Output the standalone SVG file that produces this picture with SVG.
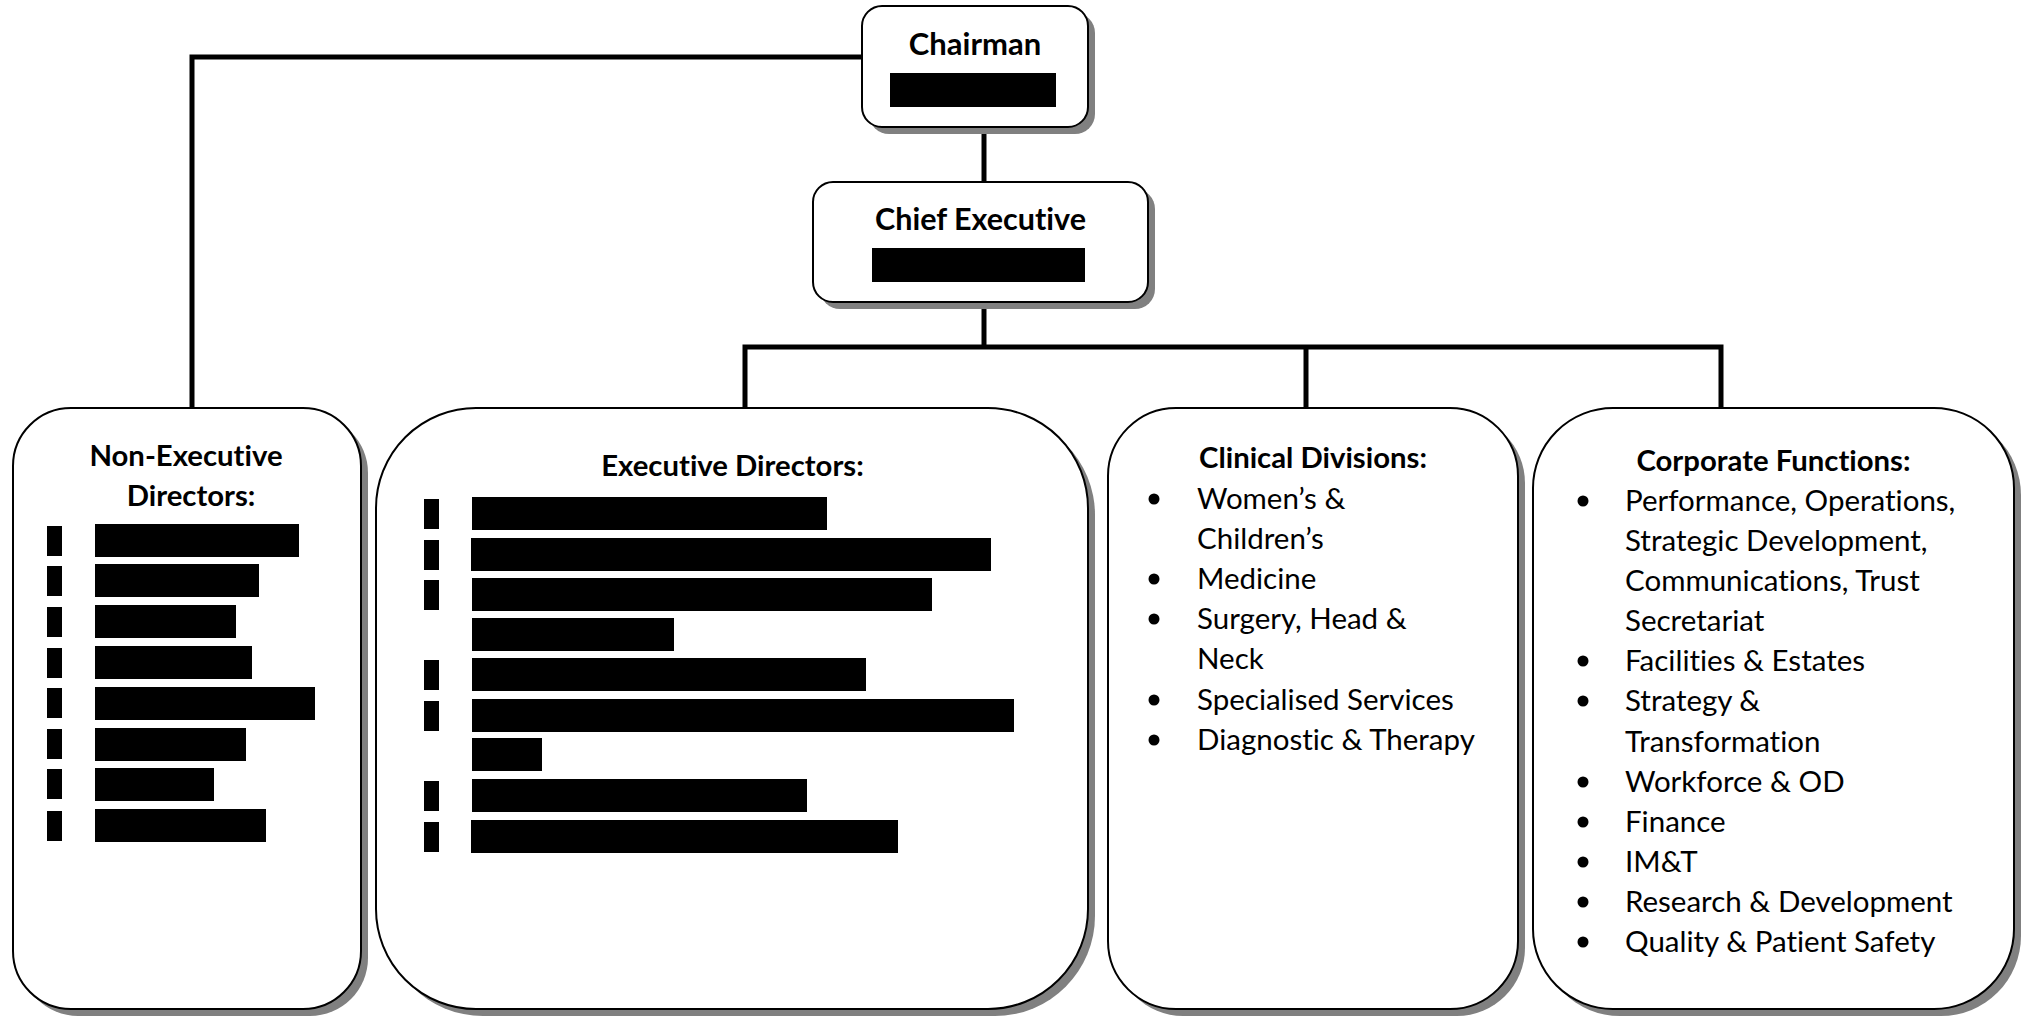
<svg xmlns="http://www.w3.org/2000/svg" width="2029" height="1018" viewBox="0 0 2029 1018">
<style>
.shadow{fill:#808080}
.box{fill:#ffffff;stroke:#000000;stroke-width:2}
.conn{stroke:#000000;stroke-width:5;fill:none}
.red{fill:#000000}
.h{font-family:Lato,"Open Sans",sans-serif;font-weight:bold;font-size:29.3px;fill:#000;text-anchor:middle;font-variant-ligatures:none}
.t{font-family:Lato,"Open Sans",sans-serif;font-size:29.5px;fill:#000;font-variant-ligatures:none}
.dot{fill:#000}
</style>
<rect width="2029" height="1018" fill="#ffffff"/>
<g id="connectors">
<polyline class="conn" points="862,57 192,57 192,408"/>
<line class="conn" x1="984" y1="128" x2="984" y2="182"/>
<line class="conn" x1="984" y1="302" x2="984" y2="347"/>
<polyline class="conn" points="745,408 745,347 1721,347 1721,408"/>
<line class="conn" x1="1306" y1="347" x2="1306" y2="408"/>
</g>
<g id="chairman">
<rect class="shadow" x="869" y="13" width="226" height="121" rx="20"/>
<rect class="box" x="862" y="6" width="226" height="121" rx="20"/>
<text class="h" x="975" y="55" style="font-size:31px">Chairman</text>
<rect class="red" x="890" y="73" width="166" height="34"/>
</g>
<g id="chief-executive">
<rect class="shadow" x="820" y="189" width="335" height="120" rx="20"/>
<rect class="box" x="813" y="182" width="335" height="120" rx="20"/>
<text class="h" x="980.5" y="230" style="font-size:30.5px">Chief Executive</text>
<rect class="red" x="872" y="248" width="213" height="34"/>
</g>
<g id="non-executive-directors">
<rect class="shadow" x="20" y="415" width="348" height="601" rx="58"/>
<rect class="box" x="13" y="408" width="348" height="601" rx="58"/>
<text class="h" x="186" y="466">Non-Executive</text>
<text class="h" x="191" y="506">Directors:</text>
<rect class="red" x="47" y="526" width="15" height="30"/>
<rect class="red" x="47" y="566" width="15" height="30"/>
<rect class="red" x="47" y="607" width="15" height="30"/>
<rect class="red" x="47" y="648" width="15" height="30"/>
<rect class="red" x="47" y="688" width="15" height="30"/>
<rect class="red" x="47" y="729" width="15" height="30"/>
<rect class="red" x="47" y="769" width="15" height="30"/>
<rect class="red" x="47" y="811" width="15" height="30"/>
<rect class="red" x="95" y="524" width="204" height="33"/>
<rect class="red" x="95" y="564" width="164" height="33"/>
<rect class="red" x="95" y="605" width="141" height="33"/>
<rect class="red" x="95" y="646" width="157" height="33"/>
<rect class="red" x="95" y="687" width="220" height="33"/>
<rect class="red" x="95" y="728" width="151" height="33"/>
<rect class="red" x="95" y="768" width="119" height="33"/>
<rect class="red" x="95" y="809" width="171" height="33"/>
</g>
<g id="executive-directors">
<rect class="shadow" x="383" y="415" width="712" height="601" rx="100"/>
<rect class="box" x="376" y="408" width="712" height="601" rx="100"/>
<text class="h" x="732.5" y="476">Executive Directors:</text>
<rect class="red" x="424" y="499" width="15" height="30"/>
<rect class="red" x="424" y="540" width="15" height="30"/>
<rect class="red" x="424" y="580" width="15" height="30"/>
<rect class="red" x="424" y="660" width="15" height="30"/>
<rect class="red" x="424" y="701" width="15" height="30"/>
<rect class="red" x="424" y="781" width="15" height="30"/>
<rect class="red" x="424" y="822" width="15" height="30"/>
<rect class="red" x="472" y="497" width="355" height="33"/>
<rect class="red" x="471" y="538" width="520" height="33"/>
<rect class="red" x="472" y="578" width="460" height="33"/>
<rect class="red" x="472" y="618" width="202" height="33"/>
<rect class="red" x="472" y="658" width="394" height="33"/>
<rect class="red" x="472" y="699" width="542" height="33"/>
<rect class="red" x="472" y="738" width="70" height="33"/>
<rect class="red" x="472" y="779" width="335" height="33"/>
<rect class="red" x="471" y="820" width="427" height="33"/>
</g>
<g id="clinical-divisions">
<rect class="shadow" x="1115" y="415" width="410" height="601" rx="68"/>
<rect class="box" x="1108" y="408" width="410" height="601" rx="68"/>
<text class="h" x="1313" y="468">Clinical Divisions:</text>
<circle class="dot" cx="1154" cy="499" r="5.5"/>
<circle class="dot" cx="1154" cy="579" r="5.5"/>
<circle class="dot" cx="1154" cy="619" r="5.5"/>
<circle class="dot" cx="1154" cy="700" r="5.5"/>
<circle class="dot" cx="1154" cy="740" r="5.5"/>
<text class="t" x="1197" y="509">Women’s &amp;</text>
<text class="t" x="1197" y="549">Children’s</text>
<text class="t" x="1197" y="589">Medicine</text>
<text class="t" x="1197" y="629">Surgery, Head &amp;</text>
<text class="t" x="1197" y="669">Neck</text>
<text class="t" x="1197" y="710">Specialised Services</text>
<text class="t" x="1197" y="750">Diagnostic &amp; Therapy</text>
</g>
<g id="corporate-functions">
<rect class="shadow" x="1540" y="415" width="481" height="601" rx="80"/>
<rect class="box" x="1533" y="408" width="481" height="601" rx="80"/>
<text class="h" x="1773.5" y="471">Corporate Functions:</text>
<circle class="dot" cx="1583" cy="501" r="5.5"/>
<circle class="dot" cx="1583" cy="661" r="5.5"/>
<circle class="dot" cx="1583" cy="701" r="5.5"/>
<circle class="dot" cx="1583" cy="782" r="5.5"/>
<circle class="dot" cx="1583" cy="822" r="5.5"/>
<circle class="dot" cx="1583" cy="862" r="5.5"/>
<circle class="dot" cx="1583" cy="902" r="5.5"/>
<circle class="dot" cx="1583" cy="942" r="5.5"/>
<text class="t" x="1625" y="511">Performance, Operations,</text>
<text class="t" x="1625" y="551">Strategic Development,</text>
<text class="t" x="1625" y="591">Communications, Trust</text>
<text class="t" x="1625" y="631">Secretariat</text>
<text class="t" x="1625" y="671">Facilities &amp; Estates</text>
<text class="t" x="1625" y="711">Strategy &amp;</text>
<text class="t" x="1625" y="752">Transformation</text>
<text class="t" x="1625" y="792">Workforce &amp; OD</text>
<text class="t" x="1625" y="832">Finance</text>
<text class="t" x="1625" y="872">IM&amp;T</text>
<text class="t" x="1625" y="912">Research &amp; Development</text>
<text class="t" x="1625" y="952">Quality &amp; Patient Safety</text>
</g>
</svg>
